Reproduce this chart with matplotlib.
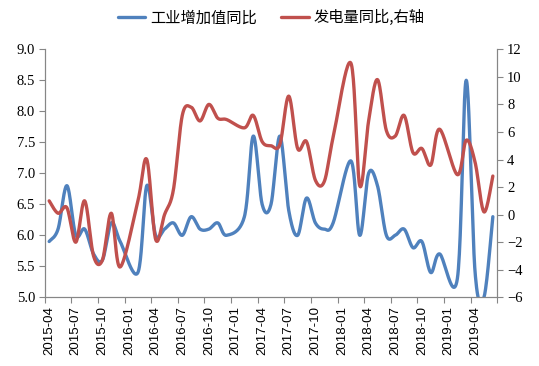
import numpy as np
import pandas as pd
import matplotlib
matplotlib.use("Agg")
import matplotlib.pyplot as plt

plt.rcParams['font.family'] = ['Noto Sans CJK SC', 'DejaVu Sans']

nan = np.nan
months = pd.period_range('2015-04', '2019-06', freq='M').strftime('%Y-%m').tolist()

# 工业增加值同比 (left axis); January values are not published
industry = [5.9, 6.1, 6.8, 6.0, 6.1, 5.7, 5.6, 6.2, 5.9,
            nan, 5.4, 6.8, 6.0, 6.1, 6.2, 6.0, 6.3, 6.1, 6.1, 6.2, 6.0,
            nan, 6.3, 7.6, 6.5, 6.5, 7.6, 6.4, 6.0, 6.6, 6.2, 6.1, 6.2,
            nan, 7.2, 6.0, 7.0, 6.8, 6.0, 6.0, 6.1, 5.8, 5.9, 5.4, 5.7,
            nan, 5.3, 8.5, 5.4, 5.0, 6.3]
# 发电量同比 (right axis)
power = [1.0, 0.1, 0.5, -2.0, 1.0, -3.0, -3.3, 0.1, -3.8,
         nan, 1.0, 4.0, -1.8, 0.0, 1.8, 7.2, 7.8, 6.8, 8.0, 7.0, 6.9,
         nan, 6.3, 7.2, 5.3, 5.0, 5.1, 8.6, 4.8, 5.3, 2.5, 2.4, 5.6,
         nan, 11.0, 2.1, 6.8, 9.8, 6.1, 5.7, 7.2, 4.5, 4.8, 3.6, 6.2,
         nan, 2.9, 5.4, 3.8, 0.2, 2.8]

labels = ['工业增加值同比', '发电量同比,右轴']
colors = ['#4F81BD', '#C0504D']


def smooth(y, n=24):
    # Excel-style smoothed line (Catmull-Rom), gaps bridged
    x = np.arange(len(y), dtype=float)
    y = np.asarray(y, dtype=float)
    m = ~np.isnan(y)
    pts = np.column_stack([x[m], y[m]])
    p = np.vstack([pts[0], pts, pts[-1]])
    t = np.linspace(0, 1, n, endpoint=False)[:, None]
    out = []
    for i in range(1, len(p) - 2):
        p0, p1, p2, p3 = p[i - 1], p[i], p[i + 1], p[i + 2]
        out.append(0.5 * (2 * p1 + (-p0 + p2) * t
                          + (2 * p0 - 5 * p1 + 4 * p2 - p3) * t ** 2
                          + (-p0 + 3 * p1 - 3 * p2 + p3) * t ** 3))
    out.append(pts[-1][None])
    c = np.vstack(out)
    return c[:, 0], c[:, 1]


fig = plt.figure(figsize=(5.39, 3.66), dpi=100)
ax = fig.add_axes([0.083, 0.1877, 0.8396, 0.6776])
ax2 = ax.twinx()

xs, ys = smooth(industry)
l1, = ax.plot(xs, ys, color=colors[0], lw=2.4, solid_capstyle='round')
xs, ys = smooth(power)
l2, = ax2.plot(xs, ys, color=colors[1], lw=2.4, solid_capstyle='round')

ax.set_xlim(-0.5, len(months) - 0.5)
ax.set_ylim(5.0, 9.0)
ax2.set_ylim(-6, 12)
ax.set_yticks(np.arange(5.0, 9.01, 0.5))
ax.set_yticklabels([f'{v:.1f}' for v in np.arange(5.0, 9.01, 0.5)])
ax2.set_yticks(np.arange(-6, 13, 2))

ax.set_xticks(np.arange(-0.5, len(months), 3))
ax.set_xticklabels([])
ax.set_xticks(np.arange(0, len(months), 3), minor=True)
ax.set_xticklabels(months[::3], minor=True, rotation=90)
ax.tick_params(axis='x', which='minor', length=0, pad=6)
ax.tick_params(axis='x', which='major', length=4, color='#868686')

gray = '#868686'
for a in (ax, ax2):
    a.spines['top'].set_visible(False)
    for s in ('left', 'right', 'bottom'):
        a.spines[s].set_color(gray)
    a.tick_params(axis='y', length=4, color=gray, labelsize=10.5, pad=3)
    for lab in a.get_yticklabels():
        lab.set_family('Liberation Serif')
ax.tick_params(axis='x', which='minor', labelsize=9.5)
for lab in ax.get_xticklabels(minor=True):
    lab.set_family('Liberation Sans')

fig.legend([l1, l2], labels, loc='center', bbox_to_anchor=(0.503, 0.951),
           ncol=2, frameon=False, fontsize=11, handlelength=1.8,
           handletextpad=0.3, columnspacing=1.6)

fig.savefig('out.png', dpi=100)
